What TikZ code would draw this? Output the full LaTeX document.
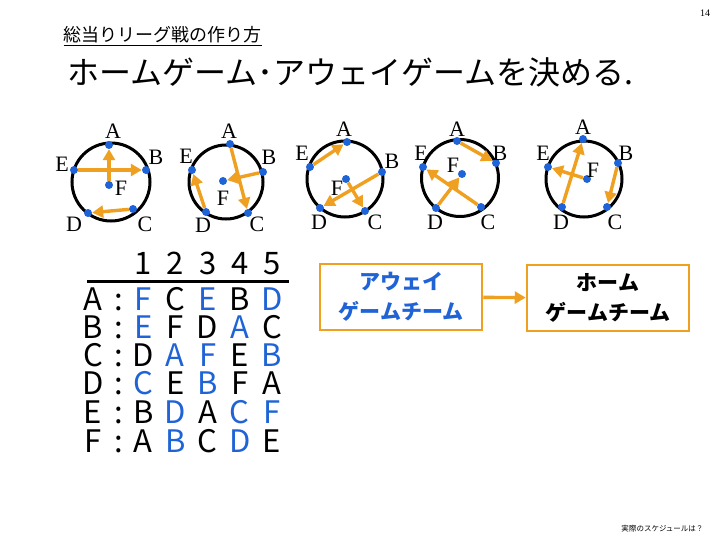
\documentclass[tikz,border=0pt]{standalone}
\usepackage{fontspec}
\setmainfont{Liberation Serif}
\newfontfamily\jpfont{Noto Sans CJK JP}
\usetikzlibrary{arrows.meta}
\definecolor{ink}{HTML}{000000}
\definecolor{away}{HTML}{1F63D6}
\definecolor{amber}{HTML}{F0A020}
\definecolor{dotblue}{HTML}{1E64D8}
\newcommand{\aw}[1]{\textcolor{away}{#1}}

\begin{document}
\begin{tikzpicture}[x=1pt,y=-1pt,
    dot/.style={circle,fill=dotblue,inner sep=0pt,minimum size=8pt},
    lbl/.style={inner sep=0pt,font=\fontsize{22}{22}\selectfont},
    mv/.style={amber,line width=3.4pt,-{Triangle[length=11pt,width=12pt]}},
    cell/.style={inner sep=0pt,text height=21pt,text depth=0pt,font=\jpfont\fontsize{31}{31}\selectfont},
    teambox/.style={draw=amber,line width=2.5pt,minimum width=162pt,minimum height=66pt,
      align=center,inner sep=0pt,font=\jpfont\bfseries\fontsize{21}{30}\selectfont}]
  \useasboundingbox[fill=white] (0,0) rectangle (720,540);

  % Headings.
  \node[font=\fontsize{10}{10}\selectfont] (pg) at (705,13) {14};
  \node[anchor=west,font=\jpfont\fontsize{18}{18}\selectfont] (sub) at (60,36)
    {\underline{総当りリーグ戦の作り方}};
  \node[anchor=west,font=\jpfont\fontsize{32}{32}\selectfont] (title) at (64,72)
    {ホームゲーム･アウェイゲームを決める.};

  % The five rounds: one circle each.
  \foreach \cx/\cy/\r in {111/182/39,226/182/37,345/179/38,460/178/38.5,584/179/38}
    \draw[ink,line width=3pt] (\cx,\cy) circle (\r);

  \foreach \nm/\px/\py in {a1/109/145,b1/146/170,c1/133/209,d1/88/213,e1/74/170,f1/109/185,
      a2/230/144,b2/263/172,c2/248/213,d2/206/212,e2/192/170,f2/223/181,
      a3/347/142,b3/382/172,c3/365/211,d3/320/208,e3/310/167,f3/346/179,
      a4/457/141,b4/496/163,c4/481/207,d4/436/208,e4/423/167,f4/462/174,
      a5/583/139,b5/618/163,c5/607/207,d5/562/207,e5/548/167,f5/587/179}
    \node[dot] (\nm) at (\px,\py) {};

  \foreach \k/\t/\px/\py in {1/A/113/131,1/B/156/157,1/C/145/224,1/D/74/224,1/E/62/164,1/F/121/188,
      2/A/229/131,2/B/269/157,2/C/257/224,2/D/203/225,2/E/186/156,2/F/223/198,
      3/A/344/129,3/B/392/161,3/C/375/222,3/D/319/222,3/E/302/153,3/F/337/188,
      4/A/457/129,4/B/500/153,4/C/488/222,4/D/435/222,4/E/421/153,4/F/453/165,
      5/A/583/127,5/B/626/153,5/C/615/222,5/D/561/222,5/E/543/153,5/F/593/170}
    \node[lbl] (l\t\k) at (\px,\py) {\t};

  \foreach \s/\e in {e1/b1,f1/a1,c1/d1,a2/c2,b2/f2,d2/e2,e3/a3,b3/d3,f3/c3,
      a4/b4,c4/e4,d4/f4,d5/a5,f5/e5,b5/c5}
    \draw[mv] (\s) -- (\e);

  % Opponent table, away games in blue.
  \foreach \h [count=\j] in {1,...,5}
    \node[cell] (h\j) at (111+32.2*\j,264) {\h};
  \draw[ink,line width=3pt] (87,281) -- (289,281);
  \foreach \r/\y/\row in {A/300/{\aw{F},C,\aw{E},B,\aw{D}},
      B/328/{\aw{E},F,D,\aw{A},C},
      C/356/{D,\aw{A},\aw{F},E,\aw{B}},
      D/384/{\aw{C},E,\aw{B},F,A},
      E/413/{B,\aw{D},A,\aw{C},\aw{F}},
      F/442/{A,\aw{B},C,\aw{D},E}} {
    \node[cell] (r\r) at (93,\y) {\r};
    \node[cell] (s\r) at (119,\y) {:};
    \foreach \c [count=\j] in \row
      \node[cell] (t\r\j) at (111+32.2*\j,\y) {\c};
  }

  % Away team goes to the home team.
  \node[teambox,text=away] (awayteam) at (401,297) {アウェイ\\ゲームチーム};
  \node[teambox] (hometeam) at (608,298) {ホーム\\ゲームチーム};
  \draw[mv] (awayteam) -- (hometeam);

  \node[anchor=east,font=\jpfont\fontsize{7.5}{7.5}\selectfont] (note) at (707,529)
    {実際のスケジュールは？};
\end{tikzpicture}
\end{document}
